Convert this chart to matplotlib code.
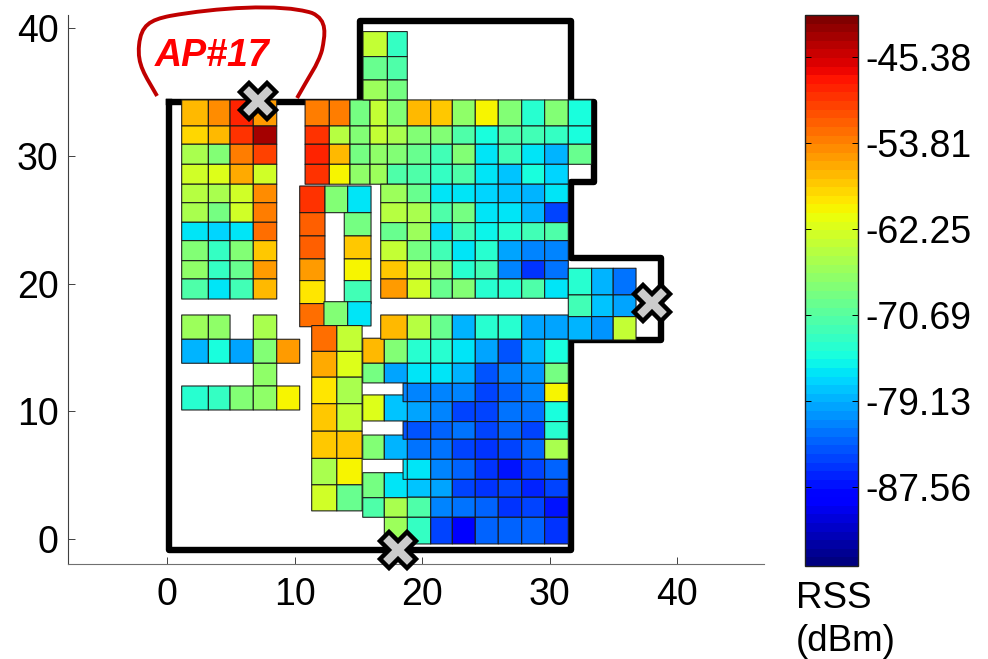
import numpy as np
import matplotlib
matplotlib.use('Agg')
import matplotlib.pyplot as plt
from matplotlib.path import Path
from matplotlib.patches import PathPatch

plt.rcParams['font.family'] = ['Liberation Sans', 'DejaVu Sans']
nan = float('nan')

# colour scale (dBm)
rss_min = -95.34
rss_max = -41.29
cbar_ticks = [-87.56, -79.13, -70.69, -62.25, -53.81, -45.38]
cbar_labels = ['-87.56', '-79.13', '-70.69', '-62.25', '-53.81', '-45.38']

# building outline and access points (metres)
wall_x = [0.16, 15.1, 15.1, 31.7, 31.7, 33.5, 33.5, 31.7, 31.7, 38.7, 38.7, 31.7, 31.7, 0.16, 0.16]
wall_y = [34.2, 34.2, 40.57, 40.57, 34.2, 34.2, 27.97, 27.97, 22.0, 22.0, 15.6, 15.6, -0.86, -0.86, 34.2]
ap_x = [7.13, 38.0, 18.1]
ap_y = [34.27, 18.5, -0.86]

# north-west room
nw_x = [1.15, 3.24, 4.94, 6.76, 8.6]
nw_y = [34.38, 32.34, 30.91, 29.34, 27.78, 26.33, 24.8, 23.36, 21.79, 20.36, 18.79]
nw_rss = [
    [-57, -54, -48.7, -55],
    [-59, -57, -49, -43],
    [-65.5, -68, -53.5, -50],
    [-62.7, -62, -56, -63],
    [-64.5, -65, -63, -54],
    [-65.5, -69, -63, -53.5],
    [-76.3, -77.5, -76, -53],
    [-68, -73, -68, -58],
    [-67, -73, -70, -55],
    [-71, -76, -72.5, -57],
]

# long top row block
top_x = [10.82, 12.72, 14.34, 15.91, 17.27, 18.83, 20.67, 22.36, 24.16, 25.96, 27.8, 29.6, 31.45, 33.28]
top_y = [34.38, 32.34, 30.91, 29.34, 27.78]
top_rss = [
    [-53.2, -53.5, -69, -63.5, -68, -57, -58, -67, -60.5, -68, -74, -68, -75],
    [-49, -64.5, -68, -63.5, -65, -68, -68, -71, -75, -71, -72, -73, -75],
    [-48.5, -57, -69, -67, -68, -70, -72, -68, -76, -72, -76, -78.5, -70],
    [-49, -60.5, -67, -66, -71, -71, -73, -71, -76, -78, -75, -77, nan],
]

# tower at the top
tower_x = [15.36, 17.27, 18.83]
tower_y = [39.73, 37.77, 35.94, 34.38]
tower_rss = [
    [-63.5, -73],
    [-70, -71],
    [-66, -69],
]

# east room, upper half
east_x = [16.75, 18.83, 20.67, 22.36, 24.16, 25.96, 27.8, 29.6, 31.45]
east_y = [27.78, 26.33, 24.77, 23.36, 21.79, 20.36, 18.85]
east_rss = [
    [-66, -70, -76, -76, -77, -78, -78.5, -76.5],
    [-64.5, -65, -71, -69, -76, -76, -79, -84.5],
    [-70, -66, -77.5, -72, -75.5, -74, -72, -71],
    [-63.5, -69, -72, -76, -74, -80, -81, -81.5],
    [-57.5, -64, -67, -74, -72, -81.5, -86, -82.5],
    [-55, -63, -70, -68, -74, -74, -71, -76],
]

# corridor, left column and pieces around the gap
corr_a_x = [10.4, 12.38]
corr_a_y = [27.64, 25.55, 23.73, 21.93, 20.23, 18.43, 16.62]
corr_a_rss = [[-49], [-51.5], [-52], [-55.5], [-59.5], [-52.5]]
corr_b_x = [12.38, 14.16, 15.99]
corr_b_y = [27.64, 25.55]
corr_b_rss = [[-68, -76]]
corr_c_x = [13.89, 15.99]
corr_c_y = [25.55, 23.73, 21.93, 20.23, 18.43]
corr_c_rss = [[-69], [-58], [-60], [-72]]
corr_d_x = [12.3, 14.16, 15.99]
corr_d_y = [18.58, 16.68]
corr_d_rss = [[-68, -76]]

# south corridor, two columns
south_x = [11.34, 13.31, 15.29]
south_y = [16.71, 14.69, 12.67, 10.59, 8.44, 6.31, 4.24, 2.2]
south_rss = [
    [-52.5, -64],
    [-56, -62],
    [-59.5, -65.5],
    [-58, -64],
    [-58, -57.5],
    [-65, -60],
    [-63, -70],
]

# west rooms
west_x = [1.15, 3.24, 4.94, 6.76, 8.6, 10.4]
west_y = [17.54, 15.64, 13.76, 11.98, 10.1]
west_rss = [
    [-66, -67, nan, -65.5, nan],
    [-78.5, -75, -79.5, -68, -55.5],
    [nan, nan, nan, -67, nan],
    [-74, -73, -68, -67, -60],
]

# strip between corridor and south-east room
strip_x = [15.34, 17.03, 18.91]
strip_y = [15.72, 13.76, 12.22, 11.28, 9.24, 8.14, 6.24, 5.19, 3.23, 1.7, -0.39]
strip_rss = [
    [-57, -68],
    [-69, -80],
    [nan, nan],
    [-62, -78],
    [nan, nan],
    [-68, -78.5],
    [nan, nan],
    [-69, -76.5],
    [-71, -65],
    [nan, -66],
]

# row just below the gap
mid_x = [16.75, 18.83, 20.67, 22.36, 24.16, 25.96, 27.8, 29.6, 31.45]
mid_y = [17.54, 15.64]
mid_rss = [[-57, -64.5, -70, -78.5, -74, -74, -80, -80]]

# south-east room
se_x = [18.83, 20.67, 22.36, 24.16, 25.96, 27.8, 29.6, 31.45]
se_y = [15.64, 13.76, 12.19, 10.75, 9.19, 7.81, 6.24, 4.67, 3.27, 1.7, -0.39]
se_rss = [
    [-74, -74, -76.5, -79.5, -84, -79, -75],
    [-76.5, -76, -79, -84, -81.5, -80.5, -69],
    [-81.5, -81, -81, -84.5, -83.5, -81.5, -60.5],
    [-79.5, -81, -84.5, -85, -82.5, -82, -75],
    [-84, -83.5, -82, -84.5, -83.5, -84.5, -74],
    [-82.5, -82.5, -85, -86, -84.5, -83, -65],
    [-76.5, -81, -83.5, -86, -87, -84.5, -83.5],
    [-78, -79.5, -85, -86, -85, -86.5, -84.5],
    [-71, -81.5, -82, -83.5, -85.5, -85, -87],
    [-73, -85, -89, -83.5, -83.5, -83, -85.5],
]
# these rows reach a bit further left, into the gaps
se_left_x = [18.5, 20.67]
se_left_y = [12.19, 10.75, 9.19, 7.81, 6.24, 4.67]
se_left_rss = [[-81.5], [nan], [-84], [nan], [-76.5]]

# small wing on the east side
wing_x = [31.45, 33.28, 34.97, 36.76]
wing_y = [21.2, 19.11, 17.41, 15.58]
wing_rss = [
    [-74, -78.5, -82],
    [-72, -78, -79.5],
    [-79, -80.5, -64],
]

# hand drawn bubble round the AP label
bubble_x = [-0.78, -1.72, -2.35, -2.19, -2.04, -1.33, 0.24, 3.76, 8.86, 11.36, 12.62, 12.38, 12.15, 11.83, 11.05, 10.19]
bubble_y = [34.69, 36.34, 37.12, 38.68, 40.25, 40.64, 40.96, 41.58, 41.97, 41.19, 40.64, 39.47, 38.29, 37.12, 36.1, 34.53]

blocks = [
    (nw_x, nw_y, nw_rss), (top_x, top_y, top_rss), (tower_x, tower_y, tower_rss),
    (east_x, east_y, east_rss), (corr_a_x, corr_a_y, corr_a_rss),
    (corr_b_x, corr_b_y, corr_b_rss), (corr_c_x, corr_c_y, corr_c_rss),
    (corr_d_x, corr_d_y, corr_d_rss), (south_x, south_y, south_rss),
    (west_x, west_y, west_rss), (strip_x, strip_y, strip_rss), (mid_x, mid_y, mid_rss),
    (se_left_x, se_left_y, se_left_rss), (se_x, se_y, se_rss), (wing_x, wing_y, wing_rss),
]

cmap = plt.get_cmap('jet', 64)
fig = plt.figure(figsize=(9.88, 6.59), dpi=100)
ax = fig.add_axes([67.5 / 988, (659 - 563.5) / 659, 696 / 988, 548.5 / 659])

# walls go under the cells
ax.plot(wall_x, wall_y, color='k', lw=4.6, solid_joinstyle='round', zorder=1)

for xs, ys, vals in blocks:
    z = np.ma.masked_invalid(np.array(vals, dtype=float))
    mesh = ax.pcolor(xs, ys, z, cmap=cmap, vmin=rss_min, vmax=rss_max,
                     edgecolors='#181818', linewidth=0.75, zorder=2)

# access points
ax.plot(ap_x, ap_y, linestyle='none', marker='X', ms=26, mfc='#cccccc', mec='k', mew=3.2,
        clip_on=False, zorder=5)

# bubble and label
codes = [Path.MOVETO] + [Path.CURVE4] * (len(bubble_x) - 1)
ax.add_patch(PathPatch(Path(np.column_stack([bubble_x, bubble_y]), codes), fc='none',
                       ec='#c00000', lw=2.8, clip_on=False, zorder=4))
ax.text(3.53, 37.85, 'AP#17', color='#ff0000', fontsize=27, fontweight='bold', fontstyle='italic',
        ha='center', va='center', zorder=6)

ax.set_xlim(-7.8, 46.75)
ax.set_ylim(-1.92, 41.03)
ax.set_xticks([0, 10, 20, 30, 40])
ax.set_yticks([0, 10, 20, 30, 40])
ax.spines['top'].set_visible(False)
ax.spines['right'].set_visible(False)
ax.spines['left'].set_color('#404040')
ax.spines['bottom'].set_color('#707070')
ax.spines['left'].set_linewidth(0.8)
ax.spines['bottom'].set_linewidth(0.8)
ax.tick_params(direction='in', length=5, width=0.7, color='#404040', labelsize=27)
ax.tick_params(axis='x', pad=10)
ax.tick_params(axis='y', pad=6.5)

# colorbar
cax = fig.add_axes([805 / 988, (659 - 566) / 659, 53 / 988, 551 / 659])
cbar = fig.colorbar(mesh, cax=cax, ticks=cbar_ticks)
cbar.ax.set_yticklabels(cbar_labels)
cbar.ax.tick_params(direction='in', length=4.5, width=0.7, left=True, right=True, labelsize=27, pad=5)
cbar.outline.set_linewidth(1.0)
cbar.outline.set_edgecolor('#202020')

fig.text(796 / 988, 1 - 581 / 659, 'RSS\n(dBm)', fontsize=26.5, ha='left', va='top', linespacing=1.3)

plt.savefig('out.png', dpi=100)
